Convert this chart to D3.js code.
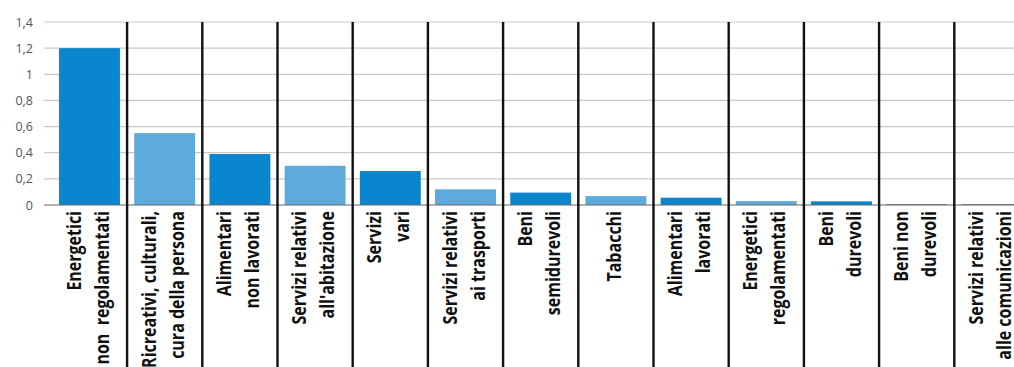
<!DOCTYPE html>
<html>
<head>
<meta charset="utf-8">
<script src="https://cdn.jsdelivr.net/npm/d3@7"></script>
<style>
  html, body { margin: 0; padding: 0; background: #fff; }
  svg { display: block; }
</style>
</head>
<body>
<svg id="chart" width="1014" height="367"></svg>
<script>
// ---- data ----
const categories = [
  "Energetici non regolamentati",
  "Ricreativi, culturali, cura della persona",
  "Alimentari non lavorati",
  "Servizi relativi all'abitazione",
  "Servizi vari",
  "Servizi relativi ai trasporti",
  "Beni semidurevoli",
  "Tabacchi",
  "Alimentari lavorati",
  "Energetici regolamentati",
  "Beni durevoli",
  "Beni non durevoli",
  "Servizi relativi alle comunicazioni"
];
const labelLine1 = [
  "Energetici", "Ricreativi, culturali,", "Alimentari", "Servizi relativi", "Servizi",
  "Servizi relativi", "Beni", "Tabacchi", "Alimentari", "Energetici", "Beni",
  "Beni non", "Servizi relativi"
];
const labelLine2 = [
  "non  regolamentati", "cura della persona", "non lavorati", "all'abitazione", "vari",
  "ai trasporti", "semidurevoli", "", "lavorati", "regolamentati", "durevoli",
  "durevoli", "alle comunicazioni"
];
const values = [1.2, 0.55, 0.39, 0.30, 0.26, 0.12, 0.095, 0.068, 0.056, 0.03, 0.028, 0.005, 0.005];
const yTicks = [0, 0.2, 0.4, 0.6, 0.8, 1, 1.2, 1.4];
const yTickLabels = ["0", "0,2", "0,4", "0,6", "0,8", "1", "1,2", "1,4"];

// ---- layout ----
const svg = d3.select("#chart");
const W = 1014, H = 367;
const x = d3.scaleBand()
  .domain(categories)
  .range([51.9, 1029.5])
  .paddingInner(0.19)
  .paddingOuter(0.095);
const y = d3.scaleLinear().domain([0, 1.4]).range([205, 22]);
const step = x.step();
const darkBlue = "#0a86cf", lightBlue = "#5eaadd";

// gridlines
svg.append("g").selectAll("line")
  .data(yTicks.filter(d => d !== 0))
  .join("line")
  .attr("x1", 44).attr("x2", W)
  .attr("y1", d => y(d)).attr("y2", d => y(d))
  .attr("stroke", "#c9c9c9").attr("stroke-width", 1.2);

// y tick labels
svg.append("g").selectAll("text")
  .data(yTicks)
  .join("text")
  .attr("x", 33)
  .attr("y", d => y(d) + 4.5)
  .attr("text-anchor", "end")
  .attr("font-family", "'Open Sans', sans-serif")
  .attr("font-size", 12.5)
  .attr("fill", "#555")
  .text((d, i) => yTickLabels[i]);

// bars
svg.append("g").selectAll("rect")
  .data(values)
  .join("rect")
  .attr("x", (d, i) => x(categories[i]))
  .attr("width", x.bandwidth())
  .attr("y", d => y(d))
  .attr("height", d => y(0) - y(d))
  .attr("fill", (d, i) => d < 0.01 ? "#444" : (i % 2 === 0 ? darkBlue : lightBlue));

// baseline
svg.append("line")
  .attr("x1", 44).attr("x2", W)
  .attr("y1", y(0)).attr("y2", y(0))
  .attr("stroke", "#666").attr("stroke-width", 1.2);

// separators
svg.append("g").selectAll("line")
  .data(categories.slice(1))
  .join("line")
  .attr("x1", d => x(d) - step * 0.095)
  .attr("x2", d => x(d) - step * 0.095)
  .attr("y1", y(1.4)).attr("y2", H)
  .attr("stroke", "#111").attr("stroke-width", 2.4);

// category labels (rotated, condensed horizontally)
const lab = svg.append("g").selectAll("g")
  .data(categories)
  .join("g")
  .attr("transform", d => `translate(${x(d) + x.bandwidth() / 2},${211}) rotate(-90) scale(0.8,1)`);
lab.each(function (d, i) {
  const g = d3.select(this);
  const two = labelLine2[i] !== "";
  const lines = two ? [labelLine1[i], labelLine2[i]] : [labelLine1[i]];
  const offs = two ? [-9, 19] : [5];
  lines.forEach((t, k) => {
    g.append("text")
      .attr("x", 0)
      .attr("y", offs[k])
      .attr("text-anchor", "end")
      .attr("font-family", "'Open Sans', sans-serif")
      .attr("font-weight", "bold")
      .attr("font-size", 20)
      .attr("fill", "#111")
      .attr("xml:space", "preserve")
      .style("white-space", "pre")
      .text(t);
  });
});
</script>
</body>
</html>
